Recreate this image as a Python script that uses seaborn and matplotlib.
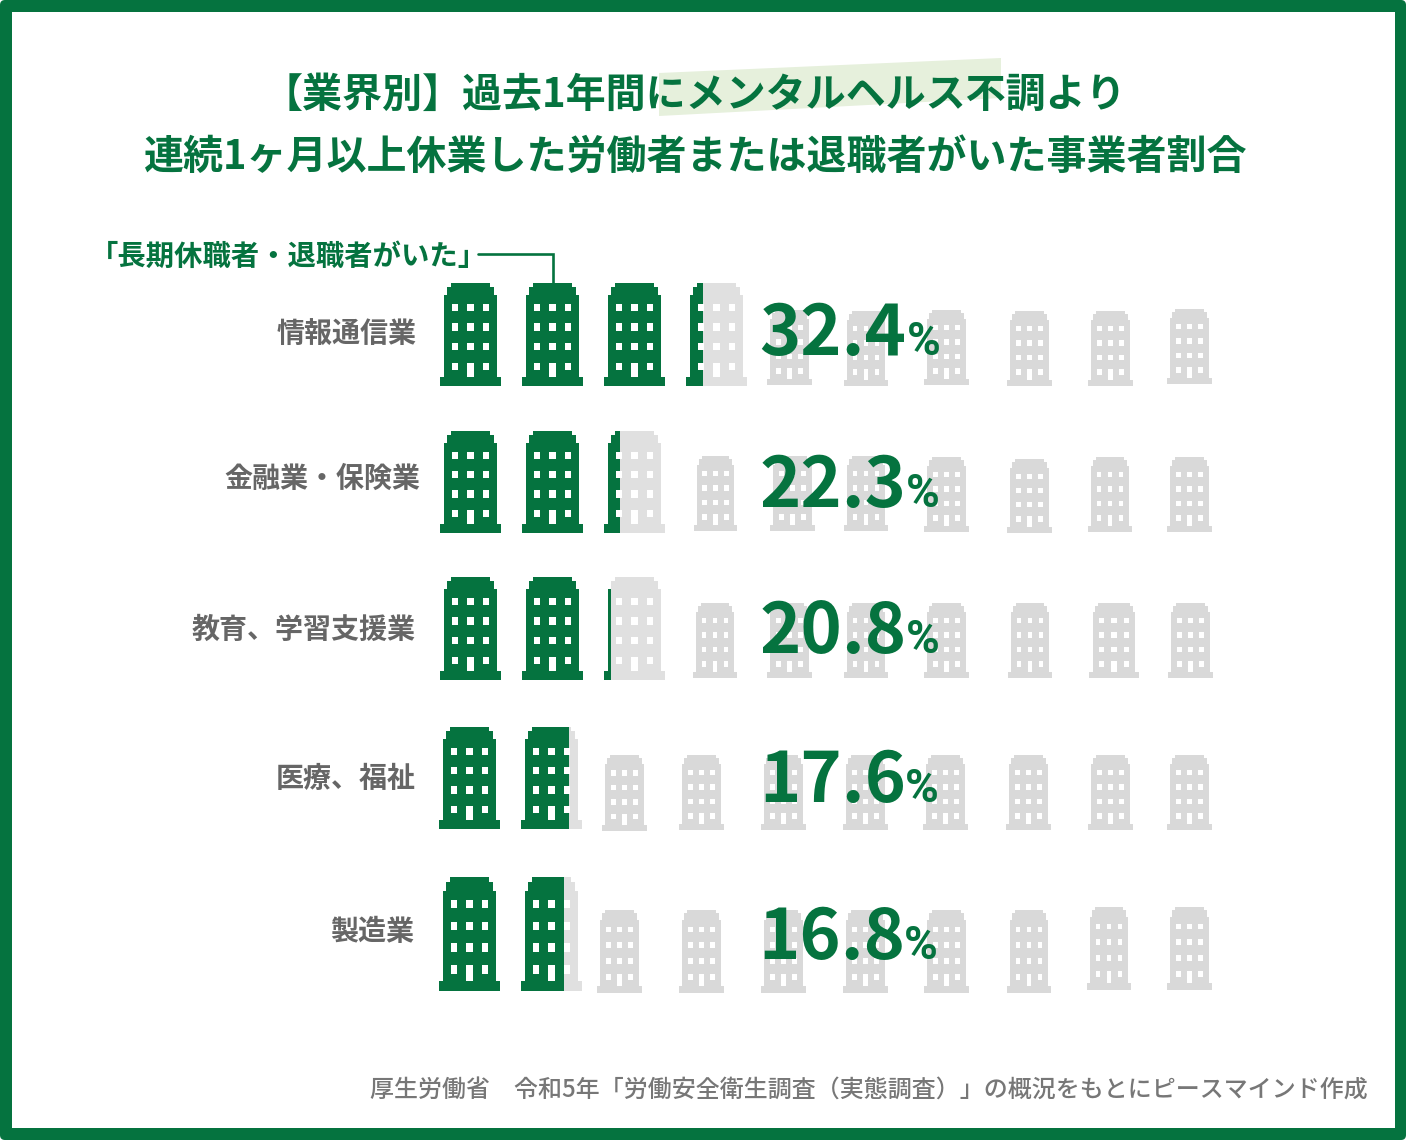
import math
import numpy as np
import pandas as pd
import seaborn as sns
import matplotlib
matplotlib.use("Agg")
import matplotlib.pyplot as plt
from matplotlib.path import Path
from matplotlib.patches import FancyBboxPatch, Rectangle, Polygon

# ---------- data ----------
industries = ["情報通信業", "金融業・保険業", "教育、学習支援業", "医療、福祉", "製造業"]
rates = [32.4, 22.3, 20.8, 17.6, 16.8]
title_lines = ["【業界別】過去1年間にメンタルヘルス不調より",
               "連続1ヶ月以上休業した労働者または退職者がいた事業者割合"]
callout = "「長期休職者・退職者がいた」"
source = "厚生労働省　令和5年「労働安全衛生調査（実態調査）」の概況をもとにピースマインド作成"
icons_per_row = 10
percent_per_icon = 10

# ---------- layout (pixels of the artboard) ----------
W, H = 1406, 1140
GREEN = "#05733F"
GRAY = "#D9D9D9"
LIGHT = "#E0E0E0"
TEXT_GRAY = "#666666"
big_lefts = [440, 522, 604, 686]
big_lefts_low = [439, 521]
big_boxes = [(283, 386), (431, 533), (577, 680), (727, 829), (877, 991)]
small_icons = [
    [(767, 45, 310, 385), (844, 44, 311, 386), (924, 45, 310, 385),
     (1007, 45, 311, 386), (1088, 45, 311, 386), (1167, 45, 309, 384)],
    [(694, 43, 456, 531), (770, 45, 456, 531), (844, 44, 456, 531), (924, 45, 457, 532),
     (1007, 45, 459, 533), (1088, 44, 457, 532), (1167, 45, 457, 532)],
    [(693, 44, 603, 678), (767, 45, 603, 678), (844, 44, 603, 678), (924, 45, 603, 678),
     (1008, 44, 603, 678), (1089, 50, 603, 678), (1168, 45, 603, 678)],
    [(602, 45, 755, 831), (679, 45, 755, 830), (761, 45, 755, 830), (843, 45, 755, 830),
     (923, 45, 755, 830), (1006, 45, 755, 830), (1088, 45, 755, 830), (1167, 45, 755, 830)],
    [(597, 45, 910, 993), (679, 45, 910, 993), (761, 45, 910, 993), (843, 45, 910, 993),
     (924, 45, 910, 993), (1007, 44, 910, 993), (1087, 44, 907, 990), (1167, 45, 907, 990)],
]
label_pos = [(416, 333), (419, 477), (415, 628), (415, 777), (413, 930)]
number_pos = [(759, 355), (760, 507), (760, 653), (759, 802), (758, 959)]
pct_pos = [(907, 355), (906, 507), (906, 653), (905, 802), (904, 959)]

# ---------- building glyph ----------
def rect(u0, u1, v0, v1):
    """clockwise ring, used for the window holes"""
    return [(u0, v0), (u0, v1), (u1, v1), (u1, v0), (u0, v0)]

outline = [(0, 0), (1, 0), (1, .085), (.929, .085), (.929, .879), (.88, .879), (.88, .958),
           (.825, .958), (.825, 1), (.175, 1), (.175, .958), (.12, .958), (.12, .879),
           (.071, .879), (.071, .085), (0, .085), (0, 0)]
rings = [outline]
for v0, v1 in [(.73, .798), (.537, .609), (.345, .417), (.153, .225)]:
    for u0, u1 in [(.197, .301), (.448, .552), (.699, .803)]:
        if v0 < .2 and u0 == .448:
            rings.append(rect(u0, u1, .085, v1))
        else:
            rings.append(rect(u0, u1, v0, v1))

def building_marker(aspect):
    verts, codes = [], []
    for ring in rings:
        for i, (u, v) in enumerate(ring):
            verts.append(((u - .5) * 2 * aspect, (v - .5) * 2))
            codes.append(Path.MOVETO if i == 0 else (Path.CLOSEPOLY if i == len(ring) - 1 else Path.LINETO))
    return Path(verts, codes)

# ---------- table of icons ----------
records = []
for r, (name, rate) in enumerate(zip(industries, rates)):
    n_big = math.ceil(rate / percent_per_icon)
    lefts = big_lefts_low if r >= 3 else big_lefts
    top, bottom = big_boxes[r]
    for k in range(n_big):
        share = min(max(rate / percent_per_icon - k, 0), 1)
        records.append(dict(row=name, left=lefts[k], w=61, top=top, bottom=bottom, share=share))
    for left, w, t, b in small_icons[r]:
        records.append(dict(row=name, left=left, w=w, top=t, bottom=b, share=0.0))
df = pd.DataFrame(records)
df["cx"] = df.left + df.w / 2
df["cy"] = (df.top + df.bottom) / 2
df["h"] = df.bottom - df.top
df["s"] = (df.h * 72 / 100) ** 2
df["aspect"] = (df.w / df.h).round(4)

# ---------- figure ----------
sns.set_theme(style="white")
plt.rcParams["font.family"] = ["Noto Sans CJK JP", "DejaVu Sans"]
fig = plt.figure(figsize=(W / 100, H / 100), dpi=100, facecolor="white")
ax = fig.add_axes([0, 0, 1, 1])

ax.add_patch(FancyBboxPatch((3, 3), W - 6, H - 6, boxstyle="round,pad=3,rounding_size=5",
                            fc=GREEN, ec="none", zorder=0))
ax.add_patch(Rectangle((12, 12), 1383, 1116, fc="white", ec="none", zorder=0.5))
ax.add_patch(Polygon([(659, 73), (1001, 58), (1001, 98), (659, 116)], closed=True,
                     fc="#E6F0DC", ec="none", zorder=1))

def draw(sub, color, clip=None, zorder=2):
    for aspect, grp in sub.groupby("aspect"):
        sns.scatterplot(data=grp, x="cx", y="cy", s=grp["s"].to_numpy(),
                        marker=building_marker(aspect), color=color, linewidth=0,
                        edgecolor="none", legend=False, ax=ax, zorder=zorder)
        if clip is not None:
            ax.collections[-1].set_clip_path(clip, ax.transData)

big = df[df.w == 61]
small = df[df.w != 61]
draw(small, GRAY)
draw(big[big.share < 1], LIGHT)

# the coloured part of each icon is the share of the rate that falls in it
green_rings, green_codes = [], []
for _, ic in big.iterrows():
    x1 = ic.left + 2 + ic.share * ic.w
    green_rings += [(ic.left - 2, ic.top - 2), (x1, ic.top - 2), (x1, ic.bottom + 2),
                    (ic.left - 2, ic.bottom + 2), (ic.left - 2, ic.top - 2)]
    green_codes += [Path.MOVETO, Path.LINETO, Path.LINETO, Path.LINETO, Path.CLOSEPOLY]
draw(big, GREEN, clip=Path(green_rings, green_codes), zorder=3)

# ---------- texts ----------
for line, x, y, fs in zip(title_lines, [694.5, 696], [95, 157], [28.85, 28.8]):
    ax.text(x, y, line, ha="center", va="center", color=GREEN, fontsize=fs,
            fontweight="bold", zorder=5)

ax.text(90, 257, callout, ha="left", va="center", color=GREEN, fontsize=20.4,
        fontweight="bold", zorder=5)
ax.plot([478, 553, 553], [253.5, 253.5, 283], color=GREEN, lw=1.9,
        solid_joinstyle="miter", zorder=4)

for name, (x, y) in zip(industries, label_pos):
    ax.text(x + 1, y + 2, name, ha="right", va="center", color=TEXT_GRAY, fontsize=20.2,
            fontweight="bold", zorder=5)

for rate, (x, y), (px, py) in zip(rates, number_pos, pct_pos):
    ax.text(x, y, f"{rate:.1f}", ha="left", va="baseline", color=GREEN, fontsize=50.5,
            fontweight="bold", zorder=6)
    ax.text(px, py, "%", ha="left", va="baseline", color=GREEN, fontsize=33,
            family=["Roboto", "DejaVu Sans"], fontweight="bold", zorder=6)

ax.text(1368, 1091, source, ha="right", va="center", color="#777777", fontsize=17.25,
        fontweight="medium", zorder=5)

ax.set_xlim(0, W)
ax.set_ylim(H, 0)
ax.axis("off")
fig.savefig("out.png", dpi=100, facecolor="white")
